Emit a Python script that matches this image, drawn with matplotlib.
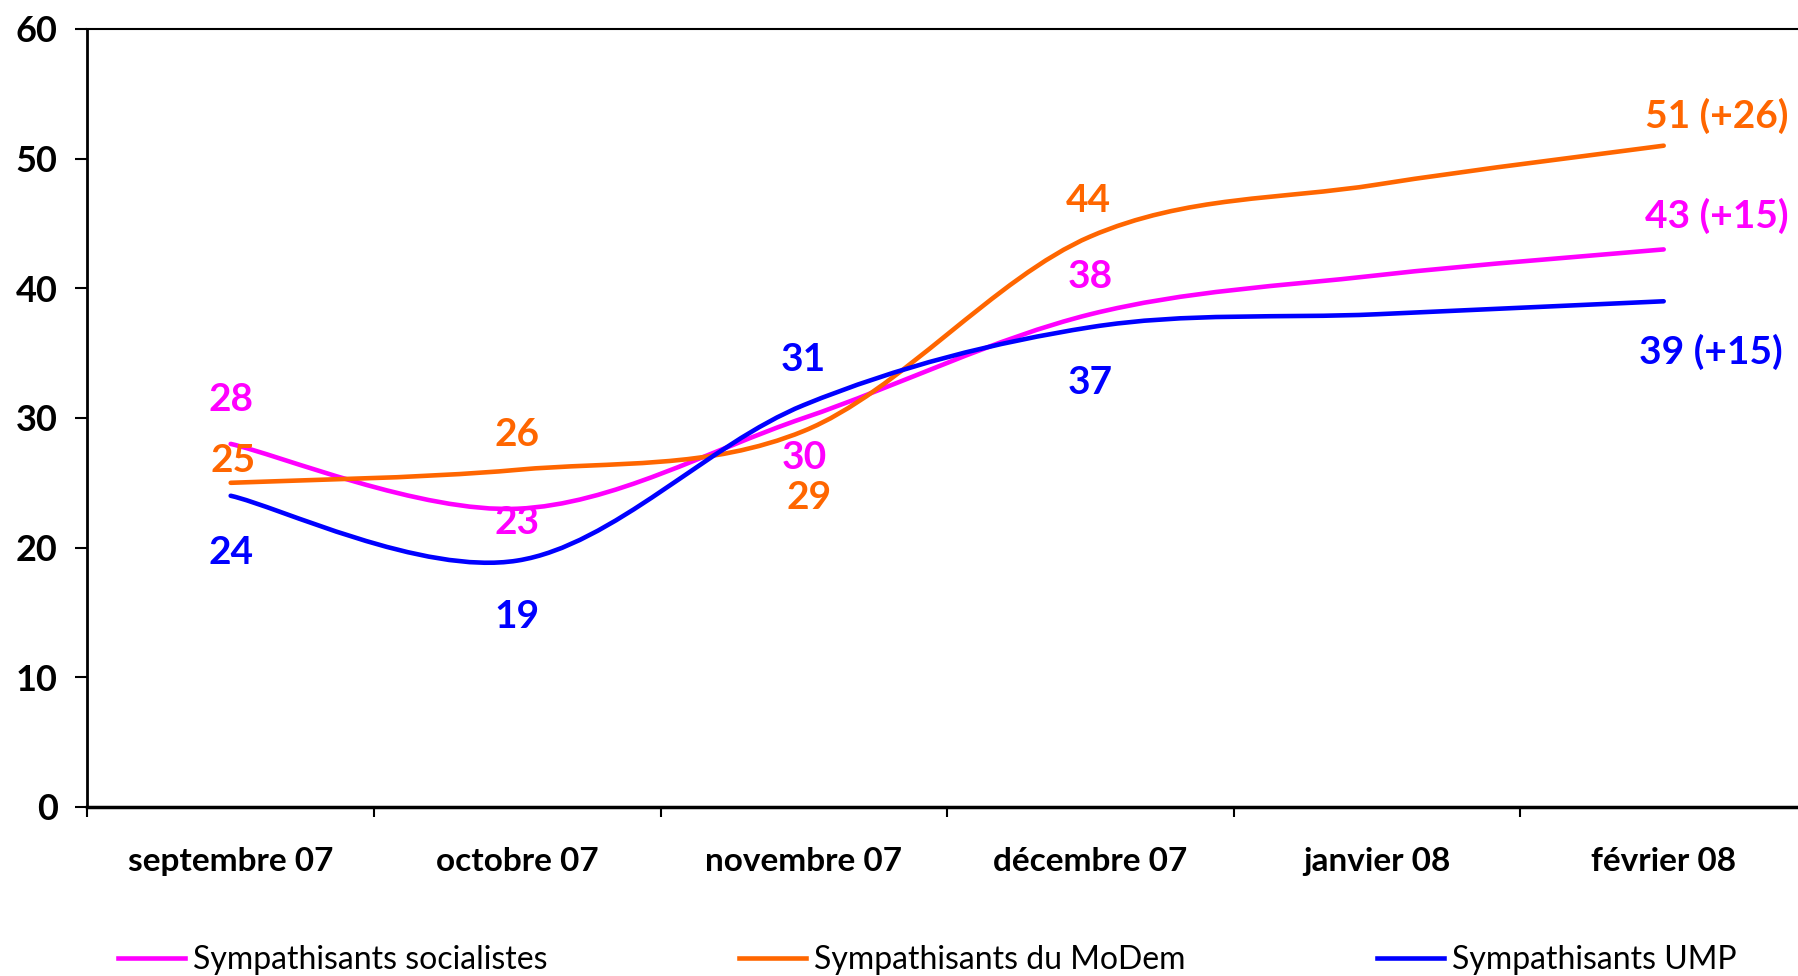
import numpy as np
import matplotlib
matplotlib.use('Agg')
import matplotlib.pyplot as plt
from matplotlib.path import Path
from matplotlib.patches import PathPatch
from matplotlib.lines import Line2D

plt.rcParams['font.family'] = ['Lato', 'DejaVu Sans']

# data
months = ['septembre 07', 'octobre 07', 'novembre 07', 'décembre 07', 'janvier 08', 'février 08']
socialistes = [28, 23, 30, 38, 41, 43]
modem = [25, 26, 29, 44, 48, 51]
ump = [24, 19, 31, 37, 38, 39]

soc_labels = ['28', '23', '30', '38', '', '43 (+15)']
modem_labels = ['25', '26', '29', '44', '', '51 (+26)']
ump_labels = ['24', '19', '31', '37', '', '39 (+15)']

series_names = ['Sympathisants socialistes', 'Sympathisants du MoDem', 'Sympathisants UMP']
colors = ['#FF00FF', '#FF6600', '#0000FF']

# label offsets in pixels (dx, dy) from each point
soc_off = [(0, 44), (0, -14), (0, -40), (0, 38), None, (53, 34)]
modem_off = [(2, 22), (0, 35), (5, -67), (-2, 36), None, (53, 30)]
ump_off = [(0, -57), (0, -56), (-1, 46), (0, -55), None, (47, -51)]


def smooth_path(x, y, t=1/6):
    # catmull-rom style bezier, like excel smoothed lines
    pts = np.column_stack([x, y]).astype(float)
    ext = np.vstack([pts[0], pts, pts[-1]])
    verts = [pts[0]]
    codes = [Path.MOVETO]
    for i in range(len(pts) - 1):
        p0, p1, p2, p3 = ext[i], ext[i+1], ext[i+2], ext[i+3]
        verts += [p1 + (p2 - p0) * t, p2 - (p3 - p1) * t, p2]
        codes += [Path.CURVE4] * 3
    return Path(verts, codes)


fig = plt.figure(figsize=(17.98, 9.76), dpi=100)
ax = fig.add_axes([0.0486, 0.1732, 0.9564, 0.7971])

x = np.arange(len(months))
all_vals = [socialistes, modem, ump]
all_labels = [soc_labels, modem_labels, ump_labels]
all_off = [soc_off, modem_off, ump_off]

for vals, col in zip(all_vals, colors):
    ax.add_patch(PathPatch(smooth_path(x, vals), fill=False, edgecolor=col,
                           lw=3.3, capstyle='round', joinstyle='round'))

for vals, labs, offs, col in zip(all_vals, all_labels, all_off, colors):
    for xi, v, lab, off in zip(x, vals, labs, offs):
        if not lab:
            continue
        ax.annotate(lab, (xi, v), xytext=off, textcoords='offset pixels',
                    ha='center', va='center', color=col, fontsize=28,
                    fontweight='bold')

ax.set_xlim(-0.5, 5.5)
ax.set_ylim(0, 60)
ax.set_yticks(range(0, 61, 10))
ax.set_xticks(np.arange(-0.5, 6, 1))
ax.set_xticklabels([])
ax.set_xticks(x, minor=True)
ax.set_xticklabels(months, minor=True, fontsize=24, fontweight='bold')
ax.tick_params(axis='x', which='major', direction='out', length=7, width=1.5)
ax.tick_params(axis='x', which='minor', length=0, pad=29)
ax.tick_params(axis='y', direction='out', length=9, width=1.5, pad=12.5,
               labelsize=26)
for lab in ax.get_yticklabels():
    lab.set_fontweight('bold')

ax.spines['right'].set_visible(False)
ax.spines['left'].set_linewidth(2)
ax.spines['top'].set_linewidth(1.5)
ax.spines['bottom'].set_linewidth(2.5)

handles = [Line2D([], [], color=c, lw=3.3) for c in colors]
fig.legend(handles, series_names, loc='center', bbox_to_anchor=(0.5157, 0.016),
           ncol=3, frameon=False, fontsize=23, handlelength=2.1,
           handletextpad=0.25, columnspacing=6.0)

fig.savefig('out.png', dpi=100)
